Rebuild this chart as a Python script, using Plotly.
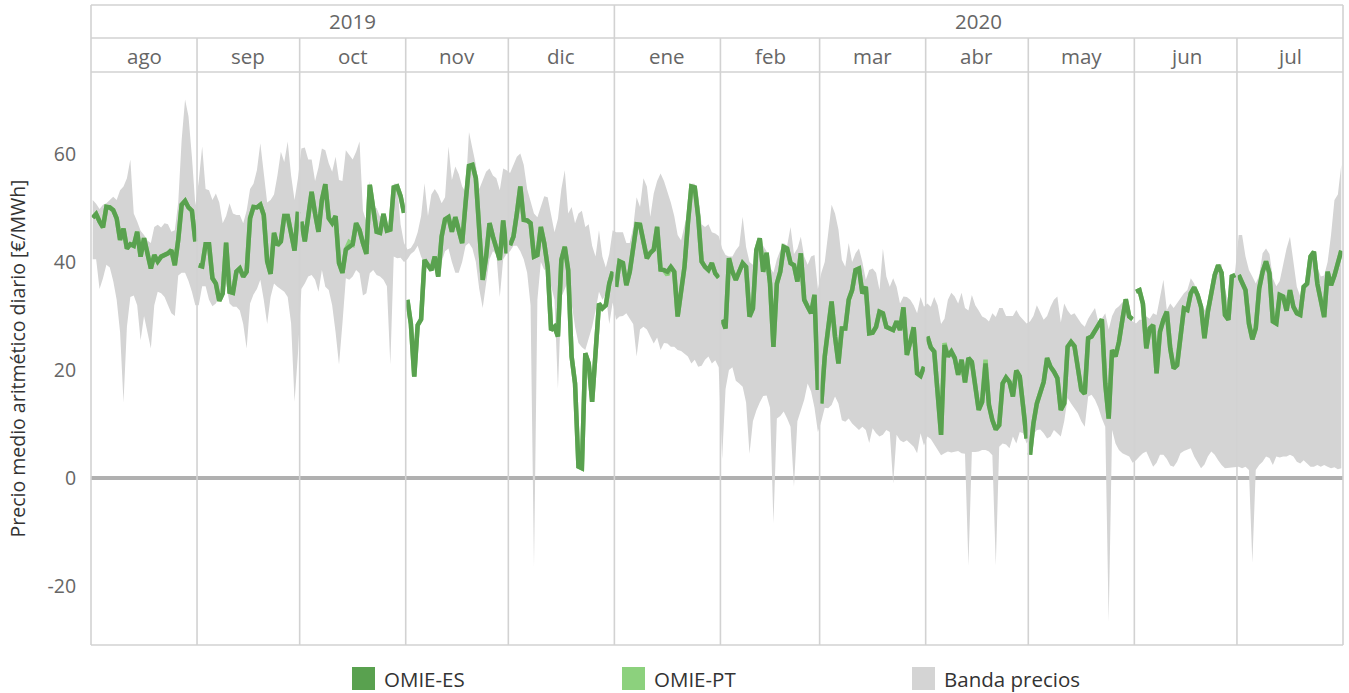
import pandas as pd
import plotly.graph_objects as go

# ---------------------------------------------------------------------------
# Daily series, 1 Aug 2019 - 31 Jul 2020 (EUR/MWh)
# ---------------------------------------------------------------------------
START, END = "2019-08-01", "2020-07-31"

MONTH_LABELS = ["ago", "sep", "oct", "nov", "dic", "ene",
                "feb", "mar", "abr", "may", "jun", "jul"]
YEAR_LABELS = ["2019", "2020"]
Y_TICKS = [-20, 0, 20, 40, 60]

omie_es = [
    # ago
    48.2, 48.9, 47.5, 46.4, 50.2, 50.1, 49.6, 48.1, 44.1, 46.2, 42.5, 43.3, 43.0, 45.6, 41.0, 44.4,
    41.6, 38.8, 41.3, 40.1, 41.0, 41.2, 41.6, 42.2, 39.4, 44.1, 50.6, 51.3, 50.1, 49.5, 43.8,
    # sep
    39.4, 39.2, 43.3, 43.3, 37.0, 36.0, 32.8, 34.2, 43.6, 34.5, 34.3, 38.2, 38.8, 37.3, 38.2,
    48.1, 50.2, 50.1, 50.6, 48.7, 40.1, 37.8, 45.4, 43.1, 43.8, 48.5, 48.5, 45.6, 42.1, 49.3,
    # oct
    47.5, 43.8, 48.4, 53.0, 49.0, 45.6, 51.5, 54.4, 48.1, 47.2, 48.5, 39.8, 38.0, 42.3, 42.8, 43.3,
    47.2, 45.9, 43.5, 41.5, 54.3, 49.3, 45.6, 45.4, 48.9, 45.8, 46.0, 53.8, 54.0, 52.2, 49.1,
    # nov
    33.0, 28.6, 18.8, 28.3, 29.4, 40.4, 39.4, 38.5, 41.0, 37.3, 44.7, 47.9, 48.3, 45.6, 48.3,
    45.9, 43.5, 50.9, 57.8, 58.0, 55.5, 45.9, 36.7, 41.0, 47.2, 44.7, 42.2, 40.4, 47.7, 41.6,
    # dic
    43.1, 44.7, 49.0, 54.0, 47.8, 47.7, 47.2, 41.0, 41.3, 46.5, 43.5, 39.1, 27.4, 28.0, 26.2, 40.4,
    42.8, 38.5, 22.5, 17.5, 2.1, 1.8, 23.1, 21.2, 14.1, 24.9, 32.3, 31.4, 32.0, 36.0, 38.2,
    # ene
    35.4, 40.1, 39.8, 35.7, 38.2, 42.8, 47.0, 46.9, 43.5, 40.7, 41.7, 42.3, 46.5, 38.6, 38.5, 38.2,
    39.1, 38.2, 29.9, 34.2, 39.1, 47.2, 54.0, 53.8, 48.4, 40.1, 39.1, 38.5, 39.8, 37.9, 37.1,
    # feb
    29.3, 27.7, 40.7, 38.2, 36.7, 38.5, 39.8, 39.1, 29.9, 31.4, 42.2, 44.4, 38.2, 41.7, 36.0,
    24.3, 36.0, 38.2, 42.8, 42.5, 39.8, 39.4, 36.4, 41.6, 33.0, 31.7, 30.5, 33.9, 16.3,
    # mar
    13.8, 22.5, 27.7, 32.7, 26.2, 21.2, 27.7, 27.7, 33.0, 34.8, 38.5, 38.8, 34.2, 35.4, 26.8, 26.9,
    28.0, 30.8, 30.5, 28.0, 27.7, 27.4, 29.0, 27.4, 31.6, 22.8, 25.2, 27.9, 19.4, 18.9, 20.6,
    # abr
    26.2, 24.2, 23.4, 16.3, 8.0, 24.6, 22.5, 23.4, 22.2, 19.1, 21.9, 17.7, 22.2, 21.5, 16.3,
    12.6, 14.1, 21.2, 13.5, 10.7, 9.0, 9.8, 17.5, 18.6, 17.8, 15.1, 19.9, 18.8, 13.2, 7.3,
    # may
    4.3, 10.1, 13.8, 15.7, 17.8, 22.2, 20.6, 19.7, 18.5, 12.6, 13.8, 24.3, 25.2, 24.4, 20.6, 16.3,
    15.6, 25.9, 26.2, 27.1, 28.3, 29.4, 17.5, 11.0, 23.7, 22.5, 25.2, 29.3, 33.1, 29.9, 29.4,
    # jun
    34.5, 34.8, 32.3, 24.0, 27.7, 28.3, 19.4, 27.1, 29.3, 30.8, 24.0, 20.3, 20.9, 26.2, 31.4,
    31.1, 34.2, 35.3, 33.9, 31.7, 25.9, 30.8, 34.8, 37.6, 39.4, 38.0, 30.2, 29.3, 37.3, 37.6,
    # jul
    37.6, 36.4, 34.8, 28.6, 25.7, 27.7, 35.1, 38.2, 40.1, 37.9, 29.0, 28.6, 33.9, 33.6, 31.0, 34.8,
    31.7, 30.5, 30.2, 35.4, 36.0, 41.0, 41.9, 36.0, 33.0, 29.8, 38.2, 35.7, 37.5, 39.6, 42.1,
]

# Portugal coincides with Spain on every day except these
omie_pt_differs = {
    "2019-10-15": 43.7,
    "2020-01-16": 37.6,
    "2020-04-06": 25.0,
    "2020-04-18": 21.9,
}

band_max = [
    # ago
    51.5, 50.8, 49.8, 50.6, 50.9, 51.5, 52.1, 51.5, 53.3, 54.0, 55.5, 59.0, 49.0, 47.5, 45.8, 45.0,
    44.0, 43.5, 46.5, 46.9, 46.4, 47.2, 47.0, 45.6, 45.9, 51.0, 62.6, 70.1, 67.0, 59.5, 50.5,
    # sep
    55.0, 61.4, 53.5, 53.3, 51.5, 52.7, 51.0, 47.2, 48.5, 50.9, 49.0, 48.7, 48.7, 47.2, 49.5,
    53.5, 54.5, 57.0, 62.0, 56.0, 51.0, 51.5, 52.5, 56.0, 60.4, 58.5, 62.3, 56.0, 51.5, 55.5,
    # oct
    61.0, 61.2, 59.0, 59.0, 55.0, 57.5, 61.0, 60.7, 58.3, 56.7, 59.5, 55.2, 55.0, 60.7, 59.8, 59.0,
    60.4, 62.3, 49.5, 47.5, 55.0, 49.8, 50.0, 48.4, 49.0, 46.5, 47.0, 54.5, 54.5, 47.0, 43.5,
    # nov
    42.3, 42.6, 43.6, 45.5, 48.5, 54.6, 48.5, 52.5, 53.5, 52.5, 50.9, 52.0, 61.4, 55.2, 57.7,
    56.3, 54.0, 53.0, 64.1, 61.0, 58.0, 53.5, 55.0, 56.7, 57.3, 56.0, 55.5, 53.3, 57.3, 57.0,
    # dic
    56.5, 58.0, 59.5, 60.1, 58.0, 53.5, 51.2, 49.0, 48.3, 50.5, 52.2, 52.0, 49.0, 45.5, 48.0, 53.5,
    57.0, 49.0, 50.2, 47.2, 49.0, 49.5, 46.5, 47.0, 43.0, 41.0, 45.9, 41.0, 39.0, 41.5, 45.9,
    # ene
    45.5, 45.5, 45.5, 43.5, 43.5, 46.5, 52.0, 50.2, 55.5, 54.0, 48.4, 52.7, 55.0, 56.4, 55.0, 53.0,
    51.0, 48.5, 45.0, 44.0, 46.5, 49.5, 54.5, 54.5, 52.5, 47.0, 46.5, 47.0, 45.5, 45.3, 44.8,
    # feb
    42.5, 41.3, 41.0, 41.0, 42.2, 43.0, 48.4, 42.8, 40.0, 39.5, 42.5, 44.5, 43.0, 42.0, 39.0,
    38.0, 40.5, 42.2, 43.5, 43.0, 46.5, 41.5, 42.5, 44.7, 41.0, 39.5, 41.0, 41.3, 35.0,
    # mar
    38.0, 40.0, 45.3, 50.6, 49.0, 46.0, 40.4, 39.1, 43.5, 40.0, 41.6, 42.5, 40.0, 36.7, 38.5, 38.8,
    38.0, 34.8, 42.5, 37.3, 35.4, 37.0, 35.4, 32.3, 33.6, 33.5, 33.0, 32.0, 30.5, 33.5, 31.7,
    # abr
    32.3, 31.7, 33.5, 32.0, 28.5, 29.5, 33.0, 34.3, 33.6, 32.3, 34.3, 31.5, 31.0, 33.9, 32.0,
    31.0, 29.9, 29.6, 29.0, 30.5, 29.8, 31.5, 31.5, 30.0, 30.0, 30.0, 31.1, 30.0, 29.3, 28.6,
    # may
    29.0, 30.0, 32.0, 30.5, 29.3, 30.0, 31.7, 33.0, 33.6, 28.8, 32.3, 31.0, 30.2, 30.5, 29.5, 28.6,
    28.0, 29.5, 30.5, 31.5, 28.8, 29.5, 30.5, 27.5, 30.0, 31.3, 31.8, 32.5, 33.3, 30.0, 29.0,
    # jun
    28.6, 29.3, 29.3, 29.9, 29.5, 30.5, 30.2, 33.6, 36.7, 31.1, 32.3, 31.5, 32.3, 33.3, 34.2,
    34.8, 37.0, 36.0, 34.0, 32.3, 31.1, 32.3, 35.0, 37.5, 39.5, 39.6, 35.0, 32.6, 35.5, 38.5,
    # jul
    45.0, 45.0, 41.0, 38.5, 37.3, 36.0, 37.5, 41.6, 42.5, 41.5, 37.0, 35.5, 36.5, 39.5, 42.5, 44.7,
    39.8, 35.4, 33.6, 35.5, 37.3, 39.1, 41.6, 39.1, 37.3, 37.5, 40.0, 45.0, 51.5, 52.5, 58.0,
]

band_min = [
    # ago
    40.5, 40.5, 35.0, 37.0, 39.5, 39.0, 36.5, 33.0, 27.0, 14.0, 28.0, 33.5, 33.8, 32.0, 25.5, 30.0,
    27.0, 24.0, 32.0, 34.5, 34.2, 33.5, 32.0, 30.5, 30.0, 37.5, 38.0, 38.0, 36.5, 34.5, 32.0,
    # sep
    32.0, 35.5, 35.5, 33.0, 31.8, 32.3, 33.6, 34.8, 36.0, 32.3, 31.7, 31.7, 31.0, 28.5, 24.0,
    32.3, 34.0, 35.0, 36.7, 33.0, 28.5, 33.5, 36.0, 35.4, 35.0, 34.5, 33.5, 28.6, 14.1, 23.0,
    # oct
    35.0, 36.0, 37.3, 37.6, 36.7, 34.5, 38.5, 35.4, 34.8, 32.0, 27.0, 21.0, 28.6, 37.0, 36.7, 37.3,
    38.5, 37.9, 33.8, 34.2, 37.9, 38.5, 37.6, 37.3, 36.7, 35.5, 21.0, 41.0, 40.7, 40.8, 40.0,
    # nov
    40.5, 41.5, 42.0, 43.0, 41.0, 39.5, 40.0, 39.0, 38.5, 39.0, 40.0, 42.0, 42.5, 40.0, 38.0,
    38.0, 40.0, 43.0, 43.5, 42.5, 40.0, 35.0, 31.5, 36.0, 40.5, 42.0, 41.5, 33.5, 40.5, 41.5,
    # dic
    42.0, 43.0, 43.0, 42.0, 40.5, 38.0, 32.0, -16.5, 33.0, 40.0, 38.5, 39.0, 35.5, 33.0, 16.5, 33.5,
    35.0, 36.5, 32.3, 28.0, 25.0, 24.2, 23.7, 26.0, 28.0, 31.0, 34.5, 33.0, 34.0, 28.5, 32.5,
    # ene
    29.3, 29.9, 30.0, 30.5, 29.5, 28.5, 22.5, 27.5, 28.0, 27.5, 26.2, 24.9, 26.0, 23.7, 25.0, 24.9,
    24.3, 24.3, 23.7, 23.5, 23.0, 22.5, 21.2, 21.9, 20.6, 20.8, 21.9, 22.5, 21.2, 21.8, 20.5,
    # feb
    3.5, 16.5, 20.0, 20.5, 18.0, 17.5, 16.9, 14.0, 4.5, 10.5, 12.5, 14.0, 15.2, 15.3, 13.0,
    -8.4, 11.0, 11.5, 12.3, 11.0, 9.5, -1.6, 10.5, 12.5, 14.5, 17.5, 16.0, 13.0, 8.5,
    # mar
    10.5, 13.0, 12.9, 13.5, 15.1, 13.8, 10.7, 10.4, 11.0, 10.1, 9.5, 8.9, 9.5, 8.9, 6.5, 9.2,
    8.3, 7.7, 8.0, 8.9, 8.5, -1.0, 8.0, 7.0, 6.6, 7.0, 6.4, 5.8, 4.6, 8.3, 6.0,
    # abr
    7.7, 7.2, 6.2, 5.0, 4.2, 4.6, 4.9, 4.7, 4.9, 5.0, 4.6, 4.5, -16.2, 4.8, 4.8,
    4.9, 5.2, 5.2, 4.9, 4.2, -16.2, 5.8, 6.4, 6.2, 5.5, 7.7, 6.4, 8.5, 8.3, 6.4,
    # may
    7.3, 8.0, 8.9, 9.0, 8.3, 7.3, 7.7, 8.9, 8.3, 7.7, 10.5, 14.8, 13.8, 13.0, 12.0, 10.5,
    9.5, 15.1, 15.4, 14.5, 13.0, 11.0, 9.5, -26.6, 8.9, 6.4, 5.2, 4.6, 4.3, 4.0, 2.8,
    # jun
    3.3, 4.0, 4.6, 4.9, 3.5, 2.1, 2.8, 4.3, 4.3, 3.5, 2.3, 2.1, 3.0, 4.6, 5.0,
    5.3, 5.5, 4.0, 2.8, 1.8, 2.5, 4.0, 4.9, 4.3, 3.3, 2.4, 1.8, 1.9, 2.0, 2.0,
    # jul
    2.1, 1.8, 2.1, 1.5, -15.7, 1.5, 2.4, 3.0, 4.0, 3.7, 2.4, 4.0, 3.8, 4.0, 4.0, 4.3,
    4.0, 3.0, 2.7, 3.3, 2.7, 2.1, 2.1, 2.4, 2.1, 2.4, 2.1, 1.8, 2.0, 1.6, 1.8,
]

# ---------------------------------------------------------------------------
# Styling
# ---------------------------------------------------------------------------
ES_COLOR = "#59a14f"
PT_COLOR = "#8cd17d"
BAND_COLOR = "#d4d4d4"
RULE_COLOR = "#d2d2d2"
FONT = "Open Sans, Noto Sans, sans-serif"

WIDTH, HEIGHT = 1349, 693
M_L, M_R, M_T, M_B = 91, 6, 72, 48
PLOT_H = HEIGHT - M_T - M_B
PLOT_W = WIDTH - M_L - M_R


def py(y_px):
    """Page pixel row -> paper y."""
    return (HEIGHT - M_B - y_px) / PLOT_H


def px(x_px):
    """Page pixel column -> paper x."""
    return (x_px - M_L) / PLOT_W


days = pd.date_range(START, END, freq="D")
noon = days + pd.Timedelta(hours=12)
month_starts = pd.date_range(START, pd.Timestamp(END) + pd.Timedelta(days=1), freq="MS")

es = pd.Series(omie_es, index=days)
pt = es.copy()
for d, v in omie_pt_differs.items():
    pt[pd.Timestamp(d)] = v


def broken_by_month(series):
    """Daily line that restarts at every month, like one pane per month."""
    xs, ys = [], []
    for _, chunk in series.groupby(series.index.to_period("M")):
        xs.extend(list(chunk.index + pd.Timedelta(hours=12)) + [None])
        ys.extend(list(chunk.values) + [None])
    return xs, ys


fig = go.Figure()

# Price band across markets
fig.add_trace(go.Scatter(x=noon, y=band_min, mode="lines", line=dict(width=0),
                         hoverinfo="skip", showlegend=False))
fig.add_trace(go.Scatter(x=noon, y=band_max, mode="lines", line=dict(width=0),
                         fill="tonexty", fillcolor=BAND_COLOR, name="Banda precios",
                         showlegend=False))

x_pt, y_pt = broken_by_month(pt)
fig.add_trace(go.Scatter(x=x_pt, y=y_pt, mode="lines", name="OMIE-PT",
                         line=dict(color=PT_COLOR, width=4.5), showlegend=False,
                         connectgaps=False))
x_es, y_es = broken_by_month(es)
fig.add_trace(go.Scatter(x=x_es, y=y_es, mode="lines", name="OMIE-ES",
                         line=dict(color=ES_COLOR, width=4.5), showlegend=False,
                         connectgaps=False))

shapes = []
annotations = []

top_y = py(5)
mid_y = py(38)

# Month dividers through plot and month header row
for ms in month_starts[1:-1]:
    is_year = ms.month == 1
    shapes.append(dict(type="line", xref="x", yref="paper", x0=ms, x1=ms,
                       y0=0, y1=top_y if is_year else mid_y,
                       line=dict(color=RULE_COLOR, width=1.6), layer="above"))

# Outer frame and header rows
for y in (0, 1, mid_y, top_y):
    shapes.append(dict(type="line", xref="paper", yref="paper", x0=0, x1=1,
                       y0=y, y1=y, line=dict(color=RULE_COLOR, width=1.6), layer="above"))
for x in (0, 1):
    shapes.append(dict(type="line", xref="paper", yref="paper", x0=x, x1=x,
                       y0=0, y1=top_y, line=dict(color=RULE_COLOR, width=1.6), layer="above"))

HEADER_FONT = dict(family=FONT, size=20.5, color="#666666")

# Month labels
for ms, me, lab in zip(month_starts[:-1], month_starts[1:], MONTH_LABELS):
    annotations.append(dict(x=ms + (me - ms) / 2, y=py(56), xref="x", yref="paper",
                            text=lab, showarrow=False, xanchor="center", yanchor="middle",
                            font=HEADER_FONT))

# Year labels
year_edges = [month_starts[0], pd.Timestamp("2020-01-01"), month_starts[-1]]
for a, b, lab in zip(year_edges[:-1], year_edges[1:], YEAR_LABELS):
    annotations.append(dict(x=a + (b - a) / 2, y=py(21), xref="x", yref="paper",
                            text=lab, showarrow=False, xanchor="center", yanchor="middle",
                            font=HEADER_FONT))

# Legend row
legend_items = [("OMIE-ES", ES_COLOR, 352), ("OMIE-PT", PT_COLOR, 622),
                ("Banda precios", BAND_COLOR, 912)]
for name, color, x0 in legend_items:
    shapes.append(dict(type="rect", xref="paper", yref="paper",
                       x0=px(x0), x1=px(x0 + 23), y0=py(690), y1=py(667),
                       fillcolor=color, line=dict(width=0)))
    annotations.append(dict(x=px(x0 + 30), y=py(679), xref="paper", yref="paper",
                            text=name, showarrow=False, xanchor="left", yanchor="middle",
                            font=dict(family=FONT, size=20.5, color="#333333")))

fig.update_layout(
    width=WIDTH, height=HEIGHT,
    margin=dict(l=M_L, r=M_R, t=M_T, b=M_B, autoexpand=False),
    paper_bgcolor="white", plot_bgcolor="white",
    shapes=shapes, annotations=annotations,
    showlegend=False,
    font=dict(family=FONT),
)
fig.update_xaxes(type="date", range=[month_starts[0], month_starts[-1]],
                 showgrid=False, showticklabels=False, ticks="", zeroline=False,
                 showline=False)
fig.update_yaxes(range=[-30.93, 75.19], tickvals=Y_TICKS,
                 ticktext=[str(v) for v in Y_TICKS],
                 showgrid=False, zeroline=True, zerolinecolor="#b0b0b0", zerolinewidth=3.5,
                 ticks="outside", ticklen=10, tickcolor="rgba(0,0,0,0)",
                 tickfont=dict(family=FONT, size=19.5, color="#666666"),
                 title=dict(text="Precio medio aritmético diario [€/MWh]",
                            font=dict(family=FONT, size=19.5, color="#333333"), standoff=16),
                 layer="above traces", showline=False)

fig.write_html("out.html")
